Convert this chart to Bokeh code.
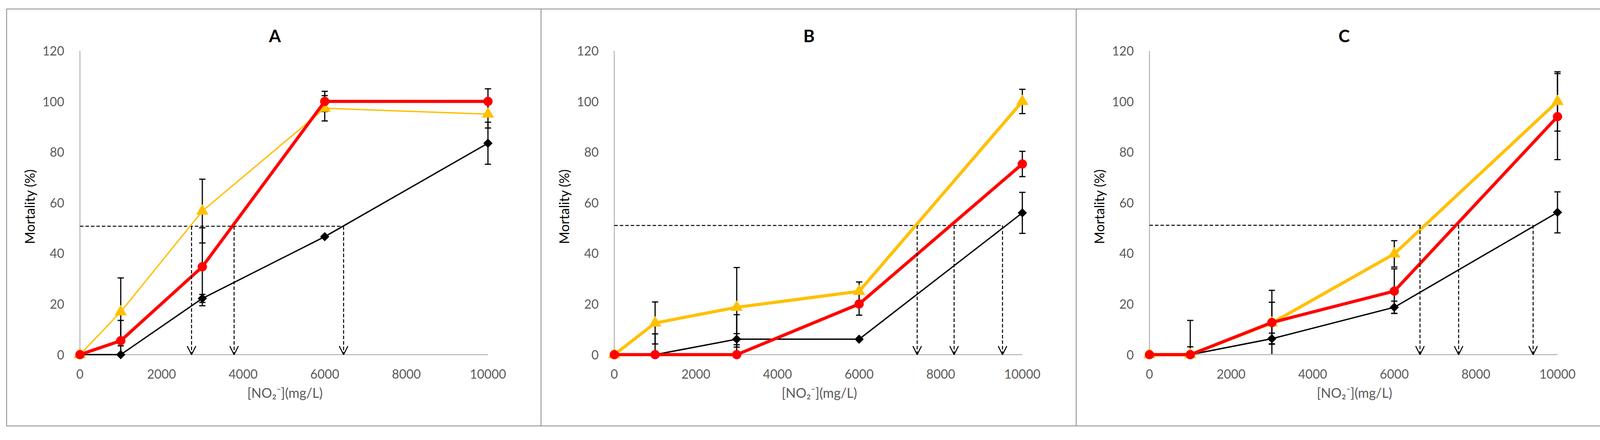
from bokeh.plotting import figure
from bokeh.models import ColumnDataSource, Whisker, TeeHead, Arrow, OpenHead, Range1d, FixedTicker
from bokeh.layouts import row
from bokeh.embed import file_html
from bokeh.resources import INLINE

# ---------------- data ----------------
conc = [0, 1000, 3000, 6000, 10000]
x_ticks = [0, 2000, 4000, 6000, 8000, 10000]
y_ticks = [0, 20, 40, 60, 80, 100, 120]
panel_titles = ["A", "B", "C"]
x_label = "[NO\u2082\u207b](mg/L)"
y_label = "Mortality (%)"

# Panel A
a_black = [0, 0, 22.2, 46.6, 83.5]
a_black_err = [0, 0, 1.6, 0.5, 8.3]
a_yellow = [0, 16.9, 56.7, 97.3, 95.0]
a_yellow_err = [0, 13.4, 12.6, 5.0, 5.5]
a_red = [0, 5.5, 34.7, 100, 100]
a_red_err = [0, 8.0, 15.4, 4.0, 5.0]
a_level = 50.7
a_lc50 = [2735, 3778, 6462]

# Panel B
b_black = [0, 0, 6.1, 6.1, 56.0]
b_black_err = [0, 8.2, 2.2, 0, 8.1]
b_yellow = [0, 12.5, 18.7, 25.0, 100]
b_yellow_err = [0, 8.3, 15.7, 3.7, 4.8]
b_red = [0, 0, 0, 20.0, 75.3]
b_red_err = [0, 0, 15.8, 4.4, 5.0]
b_level = 51.0
b_lc50 = [7423, 8328, 9514]

# Panel C
c_black = [0, 0, 6.3, 18.7, 56.2]
c_black_err = [0, 3.1, 2.2, 2.4, 8.1]
c_yellow = [0, 0, 12.5, 39.8, 100]
c_yellow_err = [0, 13.5, 8.2, 5.2, 11.7]
c_red = [0, 0, 12.7, 25.1, 94.0]
c_red_err = [0, 0, 12.7, 8.8, 17.0]
c_level = 51.1
c_lc50 = [6630, 7577, 9403]

panels = [
    (a_black, a_black_err, a_yellow, a_yellow_err, a_red, a_red_err, a_level, a_lc50),
    (b_black, b_black_err, b_yellow, b_yellow_err, b_red, b_red_err, b_level, b_lc50),
    (c_black, c_black_err, c_yellow, c_yellow_err, c_red, c_red_err, c_level, c_lc50),
]

# ---------------- style ----------------
RED = "#FF0000"
YELLOW = "#FFC000"
BLACK = "#000000"
AXIS_GREY = "#BFBFBF"
TEXT_GREY = "#595959"
FONT = "Lato"
yellow_widths = [3.5, 8, 8]
border_styles = [
    {"border": "2px solid #878787"},
    {"border-top": "2px solid #878787", "border-right": "2px solid #878787",
     "border-bottom": "2px solid #878787"},
    {"border-top": "2px solid #878787", "border-right": "2px solid #878787",
     "border-bottom": "2px solid #878787"},
]


def make_panel(i):
    blk, blk_e, yel, yel_e, red, red_e, level, lc50 = panels[i]
    p = figure(width=1370, height=1069, output_backend="svg", toolbar_location=None,
               x_range=Range1d(-250, 10300), y_range=Range1d(-4, 121),
               min_border_left=160, min_border_right=108,
               min_border_top=99, min_border_bottom=160)
    p.outline_line_color = None
    p.grid.visible = False
    p.background_fill_color = "white"
    p.border_fill_color = "white"
    p.styles = border_styles[i]

    # title
    p.title.text = panel_titles[i]
    p.title.text_font = FONT
    p.title.text_font_style = "bold"
    p.title.text_font_size = "44px"
    p.title.text_color = "black"
    p.title.align = "left"
    p.title.offset = 510
    p.title.standoff = 14

    # axes
    for ax in (p.xaxis[0], p.yaxis[0]):
        ax.axis_line_color = None
        ax.major_tick_line_color = None
        ax.minor_tick_line_color = None
        ax.major_label_text_font = FONT
        ax.major_label_text_font_size = "32px"
        ax.major_label_text_color = TEXT_GREY
        ax.axis_label_text_font = FONT
        ax.axis_label_text_font_size = "34px"
        ax.axis_label_text_font_style = "normal"
    p.xaxis.ticker = FixedTicker(ticks=x_ticks)
    p.yaxis.ticker = FixedTicker(ticks=y_ticks)
    p.xaxis.major_label_standoff = 5
    p.yaxis.major_label_standoff = 8
    p.xaxis.axis_label = x_label
    p.xaxis.axis_label_text_color = TEXT_GREY
    p.xaxis.axis_label_standoff = 12
    p.yaxis.axis_label = y_label
    p.yaxis.axis_label_text_color = "black"
    p.yaxis.axis_label_standoff = 10

    # axis lines drawn over the data extent
    p.segment(x0=[x_ticks[0], x_ticks[0]], y0=[y_ticks[0], y_ticks[0]],
              x1=[x_ticks[-1], x_ticks[0]], y1=[y_ticks[0], y_ticks[-1]],
              line_color=AXIS_GREY, line_width=3)

    # reference level and arrows
    p.segment(x0=[x_ticks[0]], y0=[level], x1=[max(lc50)], y1=[level],
              line_color=BLACK, line_width=2.5, line_dash="9 5")
    arr_src = ColumnDataSource(dict(x0=lc50, y0=[level] * len(lc50),
                                    x1=lc50, y1=[0] * len(lc50)))
    p.add_layout(Arrow(source=arr_src, x_start="x0", y_start="y0", x_end="x1", y_end="y1",
                       line_color=BLACK, line_width=2.5, line_dash="9 5",
                       end=OpenHead(size=22, line_width=2.5, line_color=BLACK)))

    # series
    series = [
        (blk, blk_e, BLACK, 3.5, "square", 16, 0.785398),
        (yel, yel_e, YELLOW, yellow_widths[i], "triangle", 30, 0),
        (red, red_e, RED, 8, "circle", 23, 0),
    ]
    for vals, errs, col, lw, mk, ms, ang in series:
        src = ColumnDataSource(dict(x=conc, y=vals))
        p.line("x", "y", source=src, line_color=col, line_width=lw)
        p.scatter("x", "y", source=src, marker=mk, size=ms, angle=ang,
                  fill_color=col, line_color=col)
    for vals, errs, col, lw, mk, ms, ang in series:
        src = ColumnDataSource(dict(x=conc,
                                    lo=[max(v - e, 0) for v, e in zip(vals, errs)],
                                    hi=[v + e for v, e in zip(vals, errs)]))
        p.add_layout(Whisker(source=src, base="x", lower="lo", upper="hi",
                             line_color=BLACK, line_width=3,
                             upper_head=TeeHead(size=16, line_width=3, line_color=BLACK),
                             lower_head=TeeHead(size=16, line_width=3, line_color=BLACK)))
    return p


figs = [make_panel(i) for i in range(3)]
layout = row(*figs, spacing=0, margin=(22, 0, 0, 16))

open("out.html", "w").write(file_html(layout, INLINE))
